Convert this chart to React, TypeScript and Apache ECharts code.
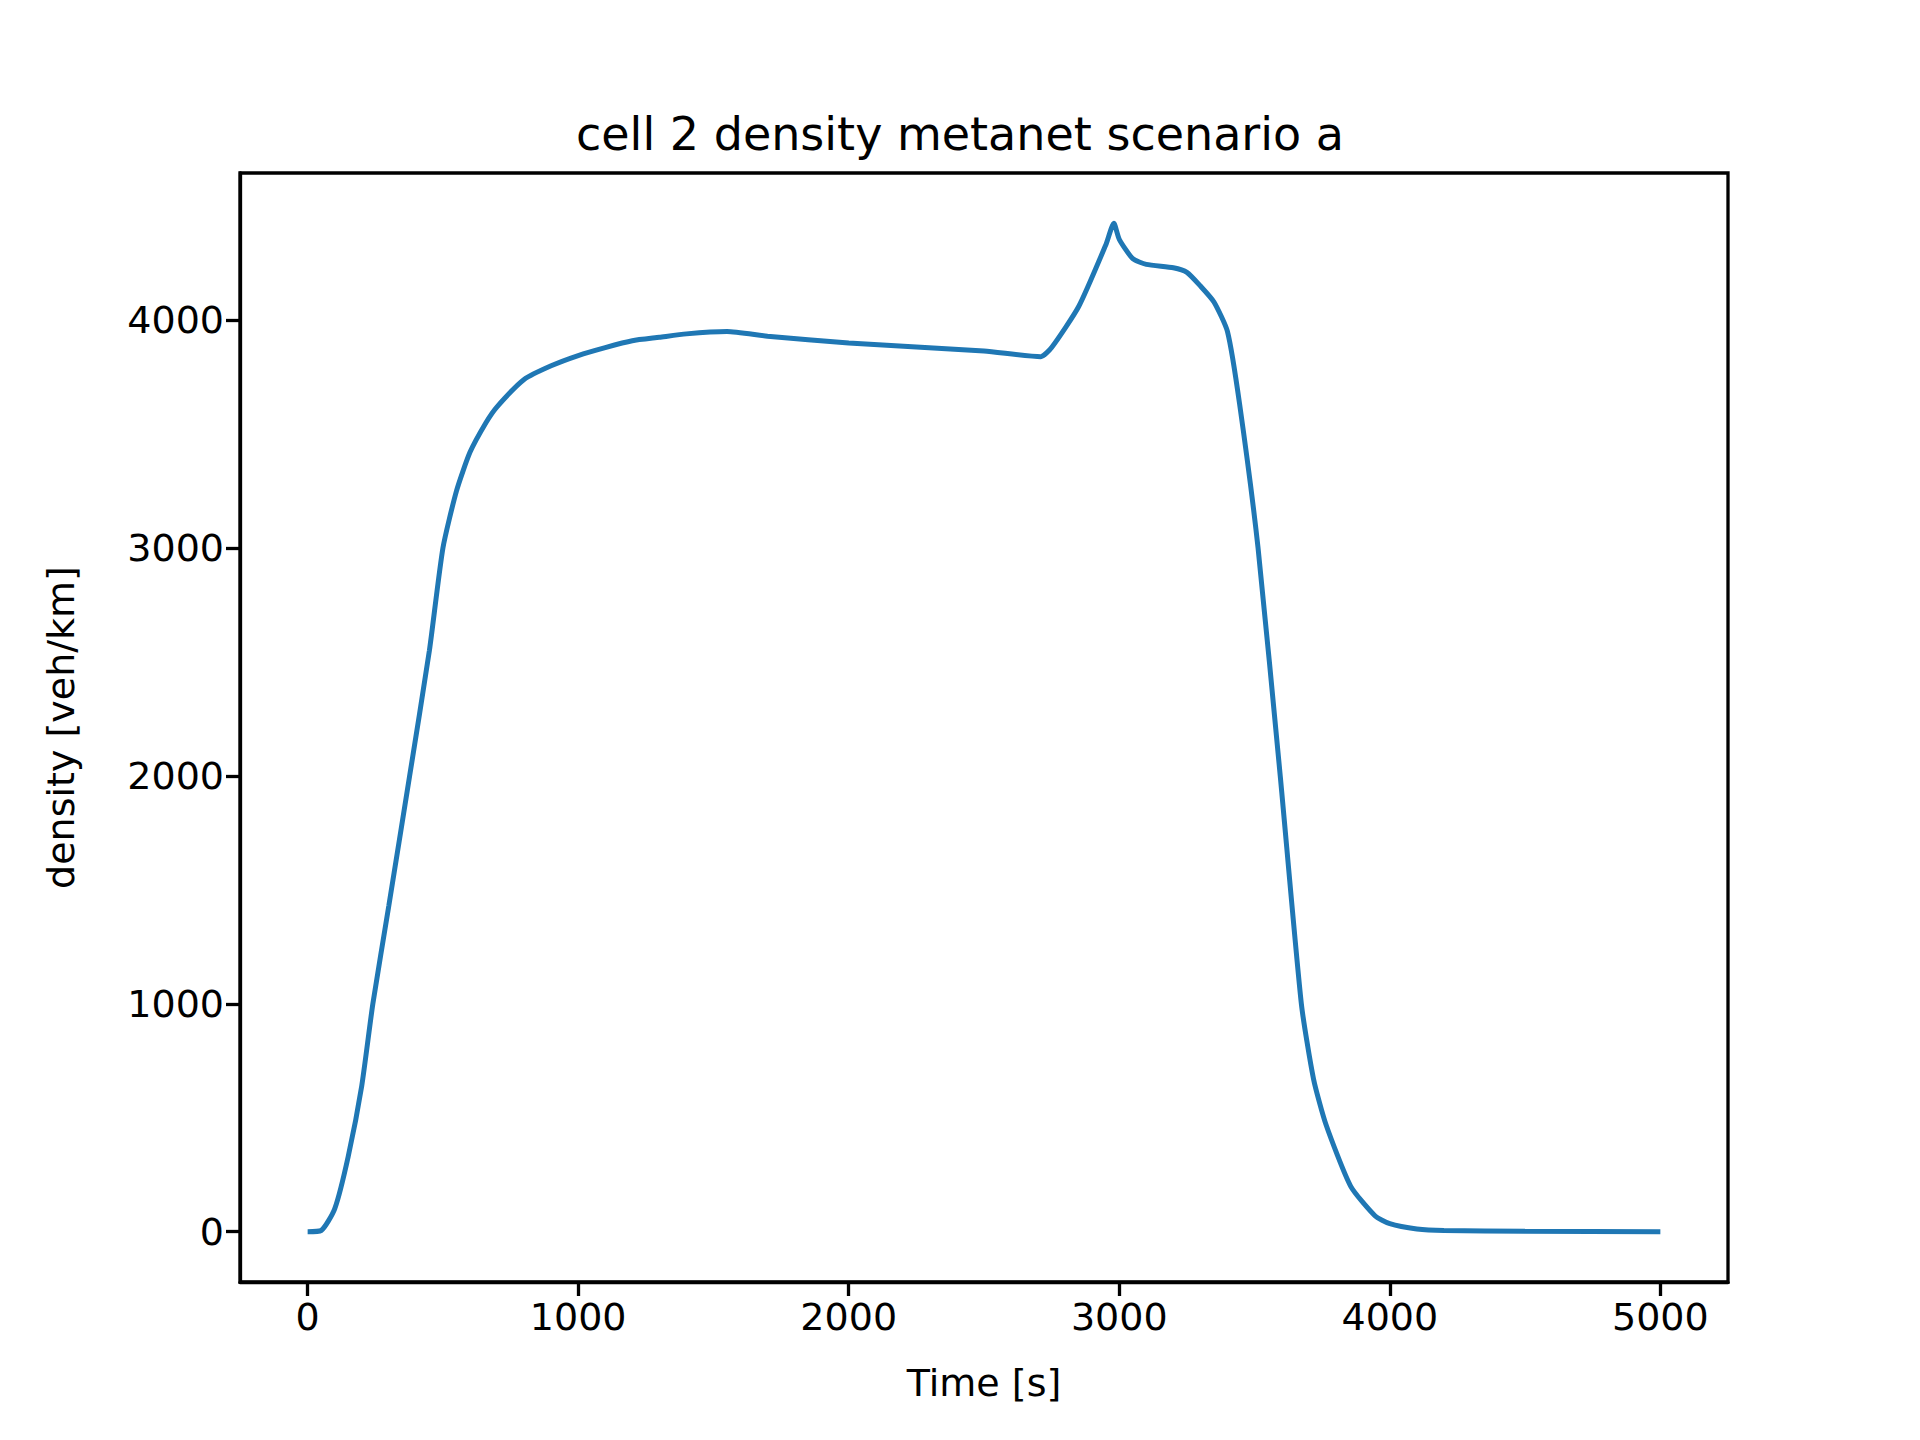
import { useEffect, useRef } from "react";
import * as echarts from "echarts";

const times = [0, 50, 100, 150, 200, 241, 300, 377, 450, 500, 550, 600, 659, 700, 800, 900, 1000, 1100, 1200, 1300, 1400, 1550, 1700, 2000, 2500, 2710, 2750, 2850, 2950, 2980, 3000, 3050, 3100, 3200, 3250, 3300, 3350, 3400, 3445, 3513, 3595, 3673, 3718, 3764, 3855, 3945, 4000, 4100, 4200, 4500, 5000];
const density = [0, 5, 100, 330, 640, 1000, 1430, 2000, 2550, 3000, 3250, 3420, 3550, 3620, 3740, 3800, 3845, 3880, 3910, 3925, 3940, 3950, 3930, 3900, 3865, 3840, 3880, 4060, 4330, 4425, 4355, 4270, 4245, 4230, 4210, 4150, 4080, 3950, 3630, 3000, 2000, 1000, 670, 470, 200, 70, 35, 12, 5, 2, 0];

const font = "DejaVu Sans";
const xTicks = [0, 1000, 2000, 3000, 4000, 5000];
const yTicks = [0, 1000, 2000, 3000, 4000];

export default function App() {
  const ref = useRef<HTMLDivElement | null>(null);
  useEffect(() => {
    if (!ref.current) return;
    const chart = echarts.init(ref.current, null, { renderer: "svg" });
    const axisCommon = {
      axisLine: { show: true, onZero: false, lineStyle: { color: "#000", width: 3.3 } },
      axisTick: { show: true, inside: false, length: 14, lineStyle: { color: "#000", width: 3.3 } },
      axisLabel: { color: "#000", fontFamily: font, fontSize: 38, margin: 16, formatter: (v: number) => String(v) },
      splitLine: { show: false },
      nameTextStyle: { color: "#000", fontFamily: font, fontSize: 38 },
    };
    chart.setOption({
      animation: false,
      backgroundColor: "#fff",
      title: {
        text: "cell 2 density metanet scenario a",
        left: "center",
        top: 106,
        textStyle: { color: "#000", fontFamily: font, fontSize: 46, fontWeight: "normal" },
      },
      grid: { left: 240, right: 192, top: 173, bottom: 158, show: true, borderColor: "#000", borderWidth: 3.3 },
      xAxis: {
        type: "value",
        min: -250,
        max: 5250,
        name: "Time [s]",
        nameLocation: "middle",
        nameGap: 82,
        ...axisCommon,
        axisLabel: { ...axisCommon.axisLabel, customValues: xTicks },
        axisTick: { ...axisCommon.axisTick, customValues: xTicks },
      },
      yAxis: {
        type: "value",
        min: -221,
        max: 4646,
        name: "density [veh/km]",
        nameLocation: "middle",
        nameGap: 160,
        ...axisCommon,
        axisLabel: { ...axisCommon.axisLabel, customValues: yTicks },
        axisTick: { ...axisCommon.axisTick, customValues: yTicks },
      },
      series: [
        {
          type: "line",
          data: times.map((t, i) => [t, density[i]]),
          showSymbol: false,
          smooth: 0.2,
          lineStyle: { color: "#1f77b4", width: 5 },
        },
      ],
    });
    return () => chart.dispose();
  }, []);
  return <div ref={ref} style={{ width: 1920, height: 1440, margin: -8 }} />;
}
